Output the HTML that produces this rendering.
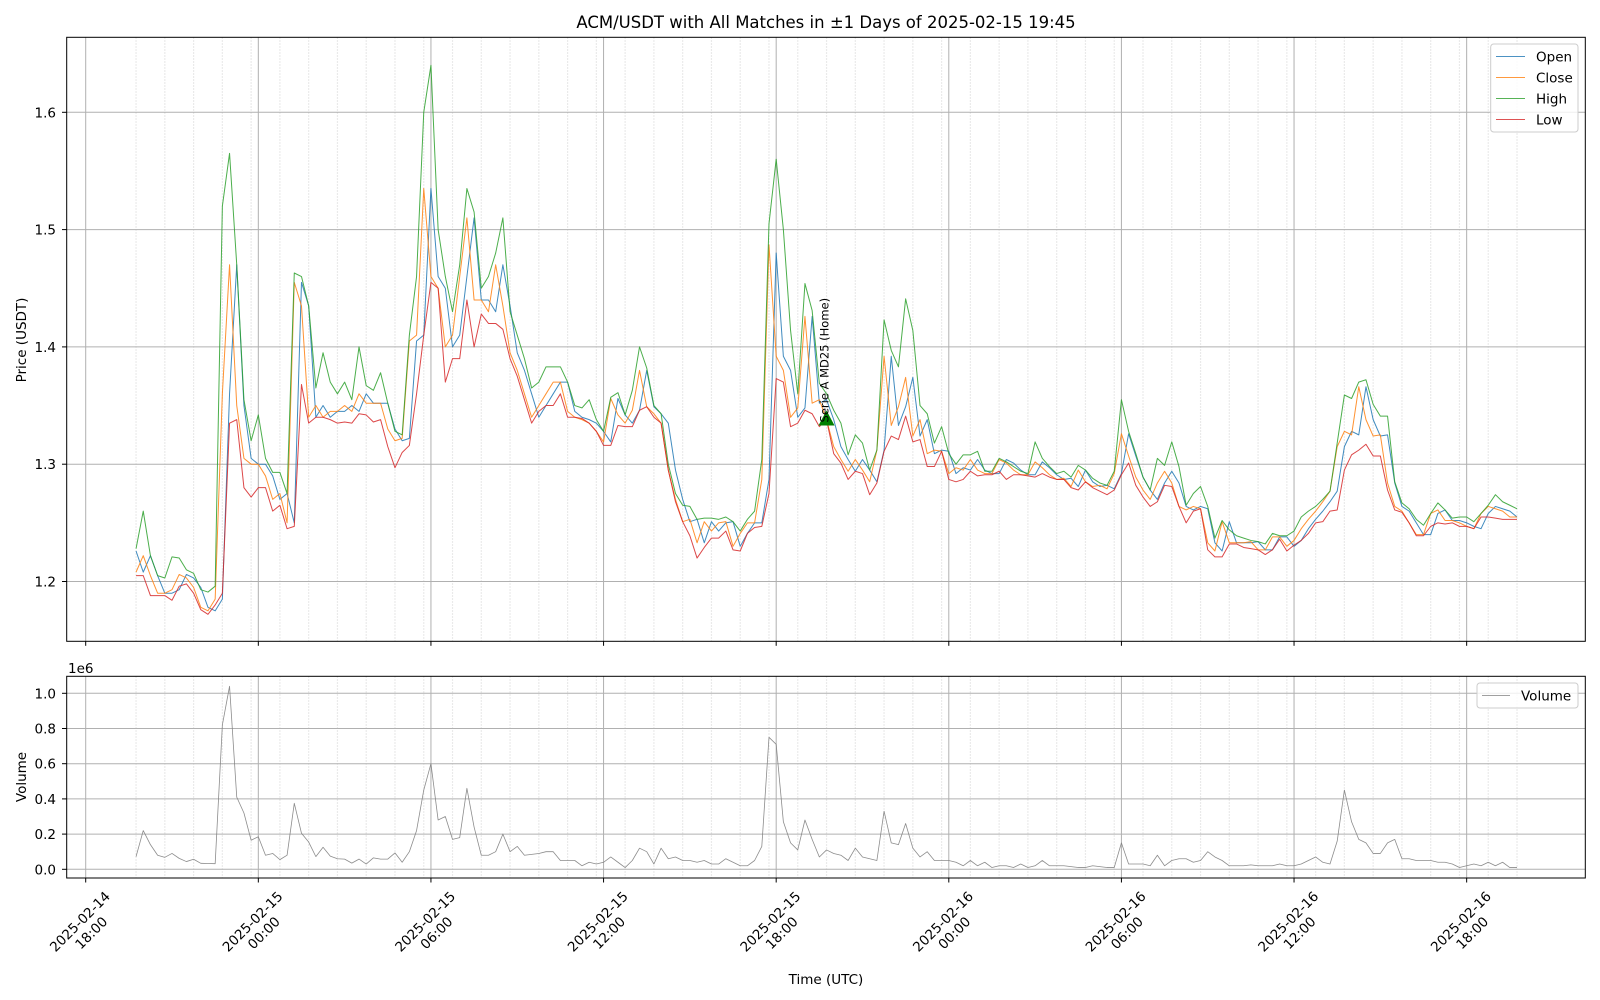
<!DOCTYPE html>
<html><head><meta charset="utf-8">
<style>
html,body{margin:0;padding:0;background:#fff;}
svg{display:block;font-family:"DejaVu Sans","Liberation Sans",sans-serif;}
</style></head>
<body>
<svg id="chart" width="1600" height="1000" viewBox="0 0 1600 1000" xmlns="http://www.w3.org/2000/svg">
  <rect width="1600" height="1000" fill="#fff"/>
  <text x="826" y="28" text-anchor="middle" font-size="16.5" fill="#000">ACM/USDT with All Matches in ±1 Days of 2025-02-15 19:45</text>
  <g id="grid"></g>
  <g id="series"></g>
  <rect x="66.7" y="37.3" width="1518.6" height="604" fill="none" stroke="#000" stroke-width="1"/>
  <rect x="66.7" y="676.3" width="1518.6" height="201.7" fill="none" stroke="#000" stroke-width="1"/>
  <g id="ticks"></g>
  <text transform="translate(26,340) rotate(-90)" text-anchor="middle" font-size="13.5">Price (USDT)</text>
  <text transform="translate(26,777) rotate(-90)" text-anchor="middle" font-size="13.5">Volume</text>
  <text x="68" y="673" font-size="13.5">1e6</text>
  <text x="826" y="984" text-anchor="middle" font-size="13.5">Time (UTC)</text>
  <g>
    <rect x="1490.7" y="44" width="87.3" height="88" rx="3" fill="#fff" fill-opacity="0.8" stroke="#ccc" stroke-width="1"/>
    <line x1="1496" y1="56.5" x2="1525" y2="56.5" stroke="#1f77b4" stroke-opacity="0.8" stroke-width="1"/>
    <text x="1536" y="61.5" font-size="13.5">Open</text>
    <line x1="1496" y1="77.5" x2="1525" y2="77.5" stroke="#ff7f0e" stroke-opacity="0.8" stroke-width="1"/>
    <text x="1536" y="82.5" font-size="13.5">Close</text>
    <line x1="1496" y1="98.5" x2="1525" y2="98.5" stroke="#2ca02c" stroke-opacity="0.8" stroke-width="1"/>
    <text x="1536" y="103.5" font-size="13.5">High</text>
    <line x1="1496" y1="119.5" x2="1525" y2="119.5" stroke="#d62728" stroke-opacity="0.8" stroke-width="1"/>
    <text x="1536" y="124.5" font-size="13.5">Low</text>
  </g>
  <g>
    <rect x="1477" y="683" width="101" height="25" rx="3" fill="#fff" fill-opacity="0.8" stroke="#ccc" stroke-width="1"/>
    <line x1="1482" y1="695.5" x2="1510" y2="695.5" stroke="#808080" stroke-width="0.7"/>
    <text x="1521" y="700.5" font-size="13.5">Volume</text>
  </g>
</svg>
<script>
var closes=[1.208,1.222,1.205,1.19,1.19,1.193,1.206,1.203,1.195,1.178,
1.175,1.185,1.36,1.47,1.35,1.305,1.30,1.30,1.29,1.27,
1.275,1.25,1.455,1.435,1.34,1.35,1.34,1.345,1.345,1.35,
1.345,1.36,1.352,1.352,1.352,1.33,1.32,1.322,1.405,1.41,
1.535,1.46,1.45,1.40,1.41,1.46,1.51,1.44,1.44,1.43,
1.47,1.435,1.395,1.38,1.36,1.34,1.35,1.36,1.37,1.37,
1.345,1.34,1.338,1.335,1.328,1.319,1.356,1.342,1.335,1.346,
1.38,1.349,1.343,1.335,1.295,1.27,1.251,1.253,1.233,1.251,
1.243,1.25,1.251,1.23,1.241,1.25,1.25,1.287,1.487,1.392,
1.38,1.34,1.348,1.426,1.352,1.355,1.338,1.315,1.304,1.294,
1.304,1.295,1.285,1.312,1.392,1.333,1.349,1.374,1.324,1.338,
1.309,1.312,1.311,1.292,1.297,1.295,1.304,1.295,1.292,1.292,
1.304,1.301,1.295,1.291,1.291,1.302,1.297,1.291,1.287,1.288,
1.281,1.295,1.285,1.281,1.282,1.279,1.292,1.326,1.307,1.289,
1.278,1.27,1.284,1.294,1.284,1.264,1.261,1.264,1.262,1.233,
1.226,1.251,1.233,1.233,1.233,1.234,1.227,1.227,1.238,1.238,
1.23,1.235,1.245,1.253,1.26,1.268,1.277,1.315,1.328,1.325,
1.366,1.338,1.324,1.325,1.284,1.264,1.26,1.25,1.24,1.24,
1.258,1.261,1.252,1.252,1.25,1.247,1.245,1.258,1.264,1.262,
1.26,1.255,1.255];
var opens=[1.226,1.208,1.222,1.205,1.19,1.19,1.193,1.206,1.203,1.195,
1.178,1.175,1.185,1.36,1.47,1.35,1.305,1.30,1.30,1.29,
1.27,1.275,1.25,1.455,1.435,1.34,1.35,1.34,1.345,1.345,
1.35,1.345,1.36,1.352,1.352,1.352,1.33,1.32,1.322,1.405,
1.41,1.535,1.46,1.45,1.40,1.41,1.46,1.51,1.44,1.44,
1.43,1.47,1.435,1.395,1.38,1.36,1.34,1.35,1.36,1.37,
1.37,1.345,1.34,1.338,1.335,1.328,1.319,1.356,1.342,1.335,
1.346,1.38,1.349,1.343,1.335,1.295,1.27,1.251,1.253,1.233,
1.251,1.243,1.25,1.251,1.23,1.241,1.25,1.25,1.287,1.48,
1.392,1.38,1.34,1.348,1.426,1.352,1.355,1.338,1.315,1.304,
1.294,1.304,1.295,1.285,1.312,1.392,1.333,1.349,1.374,1.324,
1.338,1.309,1.312,1.311,1.292,1.297,1.295,1.304,1.295,1.292,
1.292,1.304,1.301,1.295,1.291,1.291,1.302,1.297,1.291,1.287,
1.288,1.281,1.295,1.285,1.281,1.282,1.279,1.292,1.326,1.307,
1.289,1.278,1.27,1.284,1.294,1.284,1.264,1.261,1.264,1.262,
1.233,1.226,1.251,1.233,1.233,1.233,1.234,1.227,1.227,1.238,
1.238,1.23,1.235,1.245,1.253,1.26,1.268,1.277,1.315,1.328,
1.325,1.366,1.338,1.324,1.325,1.284,1.264,1.26,1.25,1.24,
1.24,1.258,1.261,1.252,1.252,1.25,1.247,1.245,1.258,1.264,
1.262,1.26,1.255];
var highs=[1.228,1.26,1.222,1.205,1.203,1.221,1.220,1.210,1.207,1.193,
1.191,1.196,1.52,1.565,1.47,1.355,1.32,1.342,1.305,1.293,
1.293,1.275,1.463,1.46,1.435,1.365,1.395,1.37,1.36,1.37,
1.355,1.40,1.367,1.363,1.378,1.352,1.328,1.325,1.41,1.46,
1.60,1.64,1.50,1.46,1.43,1.47,1.535,1.515,1.45,1.46,
1.48,1.51,1.43,1.41,1.39,1.365,1.37,1.383,1.383,1.383,
1.37,1.35,1.348,1.355,1.338,1.328,1.357,1.361,1.342,1.363,
1.40,1.382,1.35,1.343,1.30,1.275,1.265,1.264,1.253,1.254,
1.254,1.253,1.255,1.251,1.243,1.253,1.26,1.304,1.505,1.56,
1.50,1.414,1.36,1.454,1.431,1.369,1.36,1.346,1.335,1.308,
1.325,1.318,1.295,1.312,1.423,1.397,1.383,1.441,1.414,1.35,
1.343,1.318,1.332,1.309,1.30,1.308,1.308,1.311,1.294,1.294,
1.305,1.302,1.298,1.294,1.292,1.319,1.305,1.298,1.292,1.294,
1.289,1.299,1.295,1.288,1.284,1.282,1.294,1.355,1.328,1.309,
1.289,1.278,1.305,1.299,1.319,1.298,1.265,1.275,1.281,1.264,
1.237,1.252,1.244,1.239,1.237,1.235,1.234,1.232,1.241,1.239,
1.239,1.243,1.255,1.26,1.264,1.27,1.277,1.318,1.359,1.356,
1.37,1.372,1.351,1.341,1.341,1.285,1.267,1.262,1.253,1.248,
1.258,1.267,1.261,1.254,1.255,1.255,1.251,1.258,1.265,1.274,
1.268,1.265,1.262];
var lows=[1.205,1.205,1.188,1.188,1.188,1.184,1.196,1.198,1.19,1.176,
1.172,1.18,1.19,1.335,1.338,1.28,1.272,1.28,1.28,1.26,
1.265,1.245,1.247,1.368,1.335,1.34,1.34,1.338,1.335,1.336,
1.335,1.343,1.342,1.336,1.338,1.315,1.297,1.31,1.316,1.36,
1.41,1.455,1.45,1.37,1.39,1.39,1.44,1.40,1.428,1.42,
1.42,1.415,1.39,1.375,1.355,1.335,1.345,1.35,1.35,1.36,
1.34,1.34,1.339,1.335,1.328,1.316,1.316,1.333,1.332,1.332,
1.346,1.349,1.34,1.335,1.295,1.268,1.251,1.239,1.22,1.229,
1.237,1.237,1.243,1.227,1.226,1.241,1.246,1.247,1.275,1.373,
1.37,1.332,1.335,1.346,1.343,1.332,1.338,1.309,1.301,1.287,
1.294,1.292,1.274,1.284,1.311,1.324,1.321,1.341,1.319,1.321,
1.298,1.298,1.311,1.287,1.285,1.287,1.294,1.29,1.291,1.291,
1.294,1.287,1.291,1.291,1.290,1.289,1.292,1.289,1.287,1.287,
1.28,1.278,1.285,1.28,1.277,1.274,1.278,1.291,1.301,1.282,
1.272,1.264,1.268,1.282,1.281,1.264,1.25,1.26,1.262,1.227,
1.221,1.221,1.232,1.232,1.229,1.228,1.227,1.223,1.227,1.236,
1.226,1.231,1.235,1.241,1.25,1.251,1.26,1.261,1.295,1.308,
1.312,1.317,1.307,1.307,1.278,1.261,1.259,1.25,1.239,1.239,
1.247,1.25,1.249,1.25,1.247,1.247,1.245,1.255,1.255,1.254,
1.253,1.253,1.253];
var volumes=[0.072,0.22,0.14,0.08,0.068,0.09,0.062,0.044,0.057,0.034,
0.033,0.032,0.82,1.04,0.41,0.32,0.165,0.185,0.08,0.09,
0.055,0.08,0.375,0.205,0.155,0.072,0.125,0.075,0.06,0.058,
0.035,0.058,0.03,0.065,0.058,0.058,0.093,0.04,0.1,0.22,
0.45,0.6,0.28,0.3,0.17,0.18,0.46,0.24,0.08,0.08,
0.1,0.2,0.1,0.13,0.08,0.085,0.09,0.1,0.1,0.05,
0.05,0.05,0.02,0.04,0.03,0.04,0.07,0.04,0.01,0.05,
0.12,0.1,0.03,0.12,0.06,0.07,0.05,0.05,0.04,0.05,
0.03,0.03,0.06,0.04,0.02,0.02,0.05,0.13,0.75,0.71,
0.27,0.15,0.11,0.28,0.17,0.07,0.11,0.09,0.08,0.05,
0.12,0.07,0.06,0.05,0.33,0.15,0.14,0.26,0.12,0.07,
0.1,0.05,0.05,0.05,0.04,0.02,0.05,0.02,0.04,0.01,
0.02,0.02,0.01,0.03,0.01,0.02,0.05,0.02,0.02,0.02,
0.015,0.01,0.01,0.02,0.015,0.01,0.01,0.15,0.03,0.03,
0.03,0.02,0.08,0.02,0.05,0.06,0.06,0.04,0.05,0.1,
0.07,0.05,0.02,0.02,0.02,0.025,0.02,0.02,0.02,0.03,
0.02,0.02,0.03,0.05,0.07,0.04,0.03,0.16,0.45,0.27,
0.17,0.15,0.09,0.09,0.15,0.17,0.06,0.06,0.05,0.05,
0.05,0.04,0.04,0.03,0.01,0.02,0.03,0.02,0.04,0.02,
0.04,0.01,0.01];
var priceTicks=[1.2,1.3,1.4,1.5,1.6];
var priceTickLabels=["1.2","1.3","1.4","1.5","1.6"];
var volTicks=[0,0.2,0.4,0.6,0.8,1.0];
var volTickLabels=["0.0","0.2","0.4","0.6","0.8","1.0"];
var xTickHours=[0,6,12,18,24,30,36,42,48];
var xTickDates=["2025-02-14","2025-02-15","2025-02-15","2025-02-15","2025-02-15","2025-02-16","2025-02-16","2025-02-16","2025-02-16"];
var xTickTimes=["18:00","00:00","06:00","12:00","18:00","00:00","06:00","12:00","18:00"];
var matchHour=25.75;
var matchPrice=1.339;
var matchLabel="Serie A MD25 (Home)";
var startHour=1.75, stepHour=0.25;

var NS="http://www.w3.org/2000/svg";
function xOf(h){return 85.7+h*28.77;}
function yP(v){return 112.3+(1.6-v)*1173;}
function yV(v){return 869.3-v*176;}
function mk(tag,attrs,parent){var e=document.createElementNS(NS,tag);for(var k in attrs)e.setAttribute(k,attrs[k]);parent.appendChild(e);return e;}
var grid=document.getElementById('grid');
var ticks=document.getElementById('ticks');
var series=document.getElementById('series');
var axes=[[37.3,641.3],[676.3,878]];
for(var k=0;k<=48;k++){
  var xm=xOf(startHour+k);
  axes.forEach(function(a){
    var l=mk('line',{x1:xm,x2:xm,y1:a[0],y2:a[1],stroke:'#e4e4e4','stroke-width':1.2,'stroke-dasharray':'1.5,1.5'},grid);
    
    
  });
}
xTickHours.forEach(function(h,i){
  var x=xOf(h);
  axes.forEach(function(a){
    var l=mk('line',{x1:x,x2:x,y1:a[0],y2:a[1],stroke:'#b0b0b0','stroke-width':1},grid);
    
    
    var t=mk('line',{x1:x,x2:x,y1:a[1],y2:a[1]+4.5,stroke:'#000','stroke-width':1},ticks);
    
    
  });
  var g=mk('g',{transform:'translate('+(x+18)+',886) rotate(-45)'},ticks);
  
  
  var t1=mk('text',{x:-42,y:13,'text-anchor':'middle','font-size':13.5},g);
  t1.textContent=xTickDates[i];
  var t2=mk('text',{x:-42,y:29,'text-anchor':'middle','font-size':13.5},g);
  t2.textContent=xTickTimes[i];
});
priceTicks.forEach(function(v,i){
  var y=yP(v);
  var l=mk('line',{x1:66.7,x2:1585.3,y1:y,y2:y,stroke:'#b0b0b0','stroke-width':1},grid);
  
  
  var t=mk('line',{x1:62,x2:66.7,y1:y,y2:y,stroke:'#000','stroke-width':1},ticks);
  
  
  var tx=mk('text',{x:56,y:y+5,'text-anchor':'end','font-size':13.5},ticks);
  tx.textContent=priceTickLabels[i];
  
  
});
volTicks.forEach(function(v,i){
  var y=yV(v);
  var l=mk('line',{x1:66.7,x2:1585.3,y1:y,y2:y,stroke:'#b0b0b0','stroke-width':1},grid);
  
  
  var t=mk('line',{x1:62,x2:66.7,y1:y,y2:y,stroke:'#000','stroke-width':1},ticks);
  
  
  var tx=mk('text',{x:56,y:y+5,'text-anchor':'end','font-size':13.5},ticks);
  tx.textContent=volTickLabels[i];
  
  
});
function poly(arr,yf,color,w,op,name){
  var pts=arr.map(function(v,i){return xOf(startHour+i*stepHour).toFixed(2)+','+yf(v).toFixed(2);}).join(' ');
  var p=mk('polyline',{points:pts,fill:'none',stroke:color,'stroke-width':w,'stroke-opacity':op,'stroke-linejoin':'round'},series);
  
  
}
poly(opens,yP,'#1f77b4',1,0.85,'open-line');
poly(closes,yP,'#ff7f0e',1,0.85,'close-line');
poly(highs,yP,'#2ca02c',1,0.85,'high-line');
poly(lows,yP,'#d62728',1,0.85,'low-line');
poly(volumes,yV,'#808080',0.8,0.9,'volume-line');
var mx=xOf(matchHour), my=yP(matchPrice);
var tri=mk('polygon',{points:(mx-8)+','+(my+7)+' '+(mx+8)+','+(my+7)+' '+mx+','+(my-8)},series);
tri.setAttribute('fill','#008000');


var ml=mk('text',{transform:'translate('+(mx+2)+','+(my+4)+') rotate(-90)','font-size':11.5,fill:'#000'},series);
ml.textContent=matchLabel;


</script>
</body></html>
